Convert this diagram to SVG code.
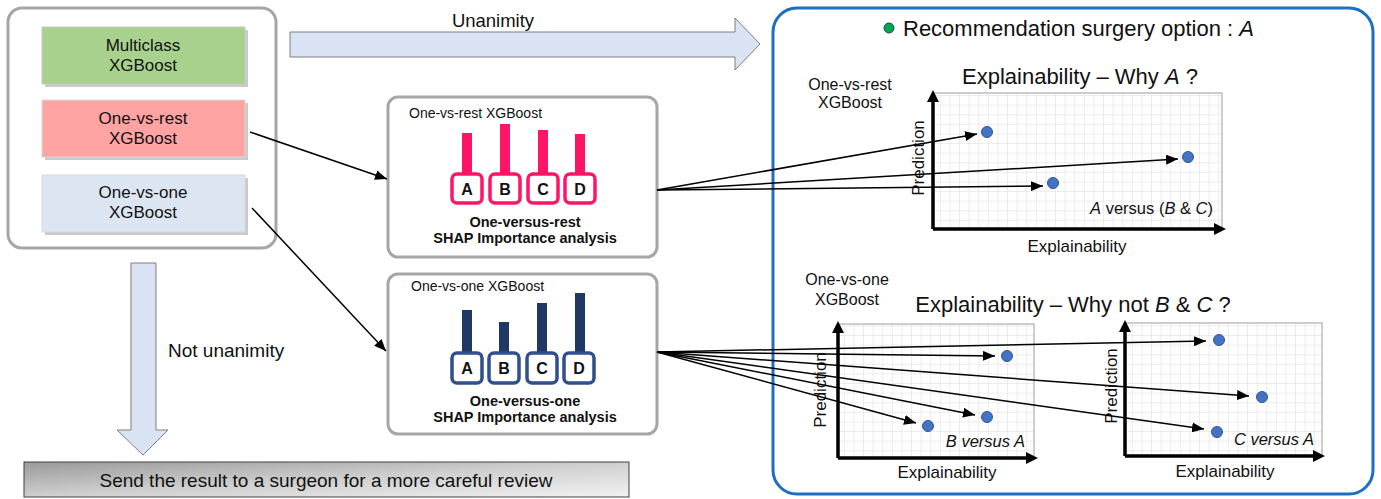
<svg xmlns="http://www.w3.org/2000/svg" width="1381" height="499" viewBox="0 0 1381 499">
<style>
text{font-family:"Liberation Sans",Arial,sans-serif;fill:#111}
.box{font-size:17px;text-anchor:middle}
.cont{fill:#fff;stroke:#a6a6a6;stroke-width:3}
.lbl{font-size:14px}
.bold{font-size:14.5px;font-weight:bold;text-anchor:middle}
.let{font-size:16px;font-weight:bold;text-anchor:middle}
.pk{fill:#ff1466}
.pkb{fill:#fff;stroke:#ff1466;stroke-width:3.5}
.nv{fill:#1f3864}
.nvb{fill:#fff;stroke:#2f4f8f;stroke-width:3.5}
.con{stroke:#000;stroke-width:1.5;fill:none;marker-end:url(#ah)}
.axis{stroke:#000;stroke-width:3.5;fill:none}
.dot{fill:#4472c4;stroke:#2f5597;stroke-width:1}
.grid{fill:url(#gp);stroke:#bdbdbd;stroke-width:1.5}
.ax{font-size:16px;text-anchor:middle}
.axl{font-size:17px;text-anchor:middle}
.title{font-size:22px;text-anchor:middle}
.big{fill:#dae3f3;stroke:#7f7f7f;stroke-width:1}
</style>
<defs>
<marker id="ah" markerUnits="userSpaceOnUse" markerWidth="12" markerHeight="10" refX="12" refY="5" orient="auto">
<path d="M0,0 L12,5 L0,10 z" fill="#000"/>
</marker>
<pattern id="gp" patternUnits="userSpaceOnUse" width="9.6" height="9.6">
<rect width="9.6" height="9.6" fill="#fff"/>
<path d="M9.6,0 V9.6 M0,9.6 H9.6" stroke="#dcdcdc" stroke-width="1" fill="none"/>
</pattern>
<linearGradient id="gg" x1="0" y1="0" x2="1" y2="1">
<stop offset="0" stop-color="#9a9a9a"/>
<stop offset="0.5" stop-color="#cfcfcf"/>
<stop offset="1" stop-color="#f2f2f2"/>
</linearGradient>
</defs>

<g id="models">
<rect class="cont" x="8" y="8" width="268" height="240" rx="14"/>
<g id="multiclass">
<rect x="45" y="30" width="203" height="57" fill="#a6a6a6" opacity="0.6"/>
<rect x="42" y="27" width="203" height="57" fill="#a9d18e" stroke="#c9c9c9"/>
<text class="box" x="143" y="51">Multiclass</text>
<text class="box" x="143" y="71">XGBoost</text>
</g>
<g id="ovr-model">
<rect x="45" y="103" width="203" height="57" fill="#a6a6a6" opacity="0.6"/>
<rect x="42" y="100" width="203" height="57" fill="#ffa3a3" stroke="#d9d9d9"/>
<text class="box" x="143" y="124">One-vs-rest</text>
<text class="box" x="143" y="144">XGBoost</text>
</g>
<g id="ovo-model">
<rect x="45" y="178" width="203" height="57" fill="#a6a6a6" opacity="0.6"/>
<rect x="42" y="175" width="203" height="57" fill="#dce6f2" stroke="#d9d9d9"/>
<text class="box" x="143" y="198">One-vs-one</text>
<text class="box" x="143" y="218">XGBoost</text>
</g>
</g>

<g id="unanimity">
<path class="big" d="M290,32 H735 V18 L760,44 L735,70 V57 H290 Z"/>
<text x="493" y="27" font-size="18.5" text-anchor="middle">Unanimity</text>
</g>

<g id="not-unanimity">
<path class="big" d="M131,263 H156 V430 H168 L143,455 L117,430 H131 Z"/>
<text x="168" y="357" font-size="19">Not unanimity</text>
</g>

<g id="surgeon">
<rect x="24" y="462" width="605" height="35" fill="url(#gg)" stroke="#404040" stroke-width="1"/>
<text x="326" y="487" font-size="19" text-anchor="middle">Send the result to a surgeon for a more careful review</text>
</g>

<g id="ovr-shap">
<rect class="cont" x="388" y="97" width="269" height="160" rx="10"/>
<text class="lbl" x="409" y="118">One-vs-rest XGBoost</text>
<rect class="pk" x="462" y="133" width="10" height="42"/>
<rect class="pk" x="500" y="124" width="10" height="51"/>
<rect class="pk" x="538" y="130" width="10" height="45"/>
<rect class="pk" x="575" y="134" width="10" height="41"/>
<rect class="pkb" x="452" y="174" width="30" height="29" rx="5"/>
<rect class="pkb" x="490" y="174" width="30" height="29" rx="5"/>
<rect class="pkb" x="528" y="174" width="30" height="29" rx="5"/>
<rect class="pkb" x="565" y="174" width="30" height="29" rx="5"/>
<text class="let" x="467" y="195">A</text>
<text class="let" x="505" y="195">B</text>
<text class="let" x="543" y="195">C</text>
<text class="let" x="580" y="195">D</text>
<text class="bold" x="525" y="227">One-versus-rest</text>
<text class="bold" x="525" y="243">SHAP Importance analysis</text>
</g>

<g id="ovo-shap">
<rect class="cont" x="388" y="274" width="269" height="160" rx="10"/>
<text class="lbl" x="411" y="291">One-vs-one XGBoost</text>
<rect class="nv" x="462" y="310" width="10" height="44"/>
<rect class="nv" x="499" y="322" width="10" height="32"/>
<rect class="nv" x="537" y="303" width="10" height="51"/>
<rect class="nv" x="575" y="293" width="10" height="61"/>
<rect class="nvb" x="452" y="353" width="30" height="30" rx="5"/>
<rect class="nvb" x="489" y="353" width="30" height="30" rx="5"/>
<rect class="nvb" x="527" y="353" width="30" height="30" rx="5"/>
<rect class="nvb" x="564" y="353" width="30" height="30" rx="5"/>
<text class="let" x="467" y="374">A</text>
<text class="let" x="504" y="374">B</text>
<text class="let" x="542" y="374">C</text>
<text class="let" x="579" y="374">D</text>
<text class="bold" x="525" y="406">One-versus-one</text>
<text class="bold" x="525" y="422">SHAP Importance analysis</text>
</g>

<g id="recommendation">
<rect x="773" y="8" width="600" height="486" rx="24" fill="none" stroke="#1f6fc0" stroke-width="3"/>
<circle cx="889" cy="28" r="5" fill="#00a651" stroke="#1f4e3d" stroke-width="1"/>
<text x="903" y="36" font-size="22">Recommendation surgery option : <tspan font-style="italic">A</tspan></text>

<g id="chart-ovr">
<text class="ax" x="850" y="90">One-vs-rest</text>
<text class="ax" x="850" y="108">XGBoost</text>
<text class="title" x="1080" y="84">Explainability – Why <tspan font-style="italic">A</tspan> ?</text>
<rect class="grid" x="933" y="93" width="289" height="136"/>
<path class="axis" d="M933,229 V100 M933,229 H1216"/>
<path d="M927,102 L933,90 L939,102 Z M1214,223 L1226,229 L1214,235 Z" fill="#000"/>
<text class="axl" transform="translate(924,158) rotate(-90)">Prediction</text>
<text class="axl" x="1077" y="252">Explainability</text>
<text x="1213" y="214" font-size="16.5" text-anchor="end"><tspan font-style="italic">A</tspan> versus (<tspan font-style="italic">B</tspan> &amp; <tspan font-style="italic">C</tspan>)</text>
<circle class="dot" cx="987" cy="132" r="5.5"/>
<circle class="dot" cx="1188" cy="157" r="5.5"/>
<circle class="dot" cx="1053" cy="183" r="5.5"/>
</g>

<g id="chart-ovo-b">
<text class="ax" x="847" y="285">One-vs-one</text>
<text class="ax" x="847" y="305">XGBoost</text>
<text class="title" x="1073" y="312">Explainability – Why not <tspan font-style="italic">B</tspan> &amp; <tspan font-style="italic">C</tspan> ?</text>
<rect class="grid" x="838" y="324" width="196" height="134"/>
<path class="axis" d="M838,458 V331 M838,458 H1028"/>
<path d="M832,333 L838,321 L844,333 Z M1026,452 L1038,458 L1026,464 Z" fill="#000"/>
<text class="axl" transform="translate(826,390) rotate(-90)">Prediction</text>
<text class="axl" x="947" y="478">Explainability</text>
<text x="1025" y="447" font-size="16.5" text-anchor="end" font-style="italic">B versus A</text>
<circle class="dot" cx="1007" cy="356" r="5.5"/>
<circle class="dot" cx="987" cy="417" r="5.5"/>
<circle class="dot" cx="928" cy="426" r="5.5"/>
</g>

<g id="chart-ovo-c">
<rect class="grid" x="1125" y="323" width="197" height="133"/>
<path class="axis" d="M1125,456 V330 M1125,456 H1315"/>
<path d="M1119,332 L1125,320 L1131,332 Z M1313,450 L1325,456 L1313,462 Z" fill="#000"/>
<text class="axl" transform="translate(1117,386) rotate(-90)">Prediction</text>
<text class="axl" x="1225" y="477">Explainability</text>
<text x="1314" y="445" font-size="16.5" text-anchor="end" font-style="italic">C versus A</text>
<circle class="dot" cx="1219" cy="340" r="5.5"/>
<circle class="dot" cx="1262" cy="397" r="5.5"/>
<circle class="dot" cx="1217" cy="432" r="5.5"/>
</g>
</g>

<g id="connectors">
<line class="con" x1="250" y1="132" x2="387" y2="179"/>
<line class="con" x1="252" y1="208" x2="386" y2="351"/>
<line class="con" x1="657" y1="190" x2="977" y2="134"/>
<line class="con" x1="657" y1="190" x2="1178" y2="159"/>
<line class="con" x1="657" y1="190" x2="1043" y2="186"/>
<line class="con" x1="657" y1="352" x2="1206" y2="341"/>
<line class="con" x1="657" y1="352" x2="995" y2="356"/>
<line class="con" x1="657" y1="352" x2="1249" y2="396"/>
<line class="con" x1="657" y1="352" x2="975" y2="415"/>
<line class="con" x1="657" y1="352" x2="1204" y2="429"/>
<line class="con" x1="657" y1="352" x2="916" y2="423"/>
</g>
</svg>
